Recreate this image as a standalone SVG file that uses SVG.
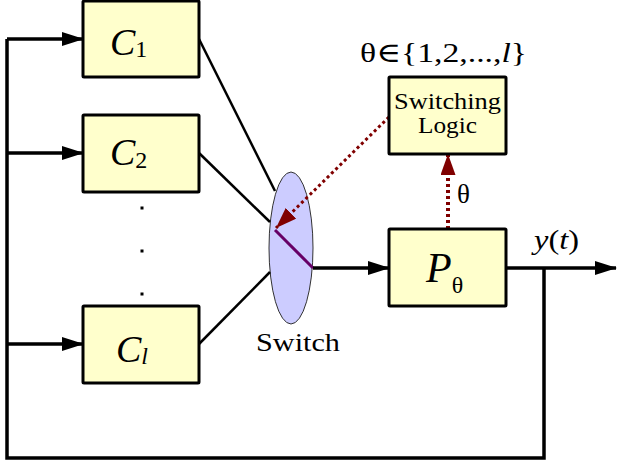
<svg xmlns="http://www.w3.org/2000/svg" width="617" height="466" viewBox="0 0 617 466">
<style>
.box{fill:#ffffcc;stroke:#000;stroke-width:3}
.wire{fill:none;stroke:#000;stroke-width:3.5}
.thin{fill:none;stroke:#000;stroke-width:2.5}
.dot{fill:none;stroke:#800000;stroke-dasharray:3 3}
.t{font-family:"Liberation Serif","DejaVu Serif",serif;fill:#000}
.i{font-style:italic}
</style>
<defs>
<marker id="ab" markerUnits="userSpaceOnUse" markerWidth="22" markerHeight="14" refX="21" refY="7" orient="auto">
<path d="M0,0 L22,7 L0,14 z" fill="#000"/>
</marker>
<marker id="ar" markerUnits="userSpaceOnUse" markerWidth="21" markerHeight="15" refX="21" refY="7.5" orient="auto">
<path d="M0,0 L21,7.5 L0,15 z" fill="#800000"/>
</marker>
</defs>
<g id="switch">
<ellipse cx="291" cy="248" rx="22" ry="76" fill="#ccccff" stroke="#333" stroke-width="1"/>
<path d="M275,230 L313,268" stroke="#660066" stroke-width="3" fill="none"/>
<text class="t" x="256" y="351" font-size="26" textLength="84" lengthAdjust="spacingAndGlyphs">Switch</text>
</g>
<g id="connectors">
<path class="wire" d="M544,268 V458 H7 V39"/>
<path class="wire" d="M7,39 H83" marker-end="url(#ab)"/>
<path class="wire" d="M7,153 H83" marker-end="url(#ab)"/>
<path class="wire" d="M7,344 H83" marker-end="url(#ab)"/>
<path class="thin" d="M199,39 L275,191"/>
<path class="thin" d="M199,153 L270,222"/>
<path class="thin" d="M199,344 L270,272"/>
<path class="wire" d="M313,268 H389" marker-end="url(#ab)"/>
<path class="wire" d="M506,268 H616" marker-end="url(#ab)"/>
<path class="dot" stroke-width="4" d="M448,229 V154" marker-end="url(#ar)"/>
<path class="dot" stroke-width="3" d="M389,117 L276,228" marker-end="url(#ar)"/>
</g>
<g id="c1">
<rect class="box" x="83" y="1" width="116" height="76" rx="1"/>
<text class="t" x="110" y="55" font-size="38"><tspan class="i">C</tspan><tspan font-size="24" dy="2">1</tspan></text>
</g>
<g id="c2">
<rect class="box" x="83" y="115" width="116" height="77" rx="1"/>
<text class="t" x="110" y="165" font-size="38"><tspan class="i">C</tspan><tspan font-size="24" dy="3">2</tspan></text>
</g>
<g id="dots">
<rect x="140.5" y="206.5" width="3" height="3" fill="#000"/>
<rect x="140.5" y="249.5" width="3" height="3" fill="#000"/>
<rect x="140.5" y="292.5" width="3" height="3" fill="#000"/>
</g>
<g id="cl">
<rect class="box" x="83" y="306" width="116" height="77" rx="1"/>
<text class="t" x="116" y="362" font-size="38"><tspan class="i">C</tspan><tspan class="i" font-size="24" dy="2">l</tspan></text>
</g>
<g id="logic">
<rect class="box" x="389" y="77" width="117" height="77" rx="1"/>
<text class="t" x="394" y="109" font-size="24" textLength="107" lengthAdjust="spacingAndGlyphs">Switching</text>
<text class="t" x="418" y="133" font-size="24" textLength="59" lengthAdjust="spacingAndGlyphs">Logic</text>
</g>
<g id="plant">
<rect class="box" x="389" y="229" width="117" height="77" rx="1"/>
<text class="t" x="426" y="282" font-size="42"><tspan class="i">P</tspan><tspan font-size="24" dy="11">θ</tspan></text>
</g>
<g id="labels">
<text class="t" x="360" y="62" font-size="28" textLength="167" lengthAdjust="spacingAndGlyphs">θ∈{1,2,...,<tspan class="i">l</tspan>}</text>
<text class="t" x="457" y="203" font-size="27">θ</text>
<text class="t" x="534" y="249" font-size="28" textLength="45" lengthAdjust="spacingAndGlyphs"><tspan class="i">y</tspan>(<tspan class="i">t</tspan>)</text>
</g>
</svg>
